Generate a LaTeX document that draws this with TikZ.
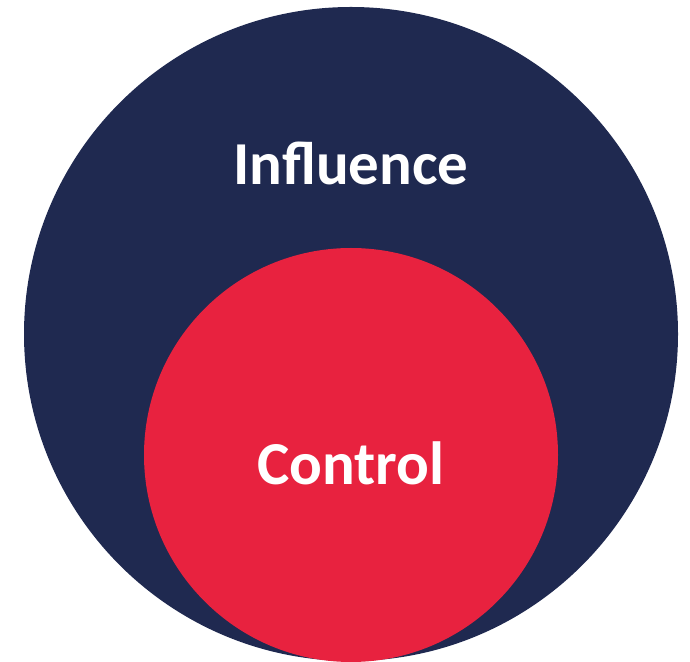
\documentclass[tikz,border=0pt]{standalone}
\usepackage{fontspec}
\setmainfont{Carlito}
\usepackage{xcolor}
\definecolor{vnavy}{HTML}{1f2950}
\definecolor{vred}{HTML}{e8223f}

\begin{document}
\begin{tikzpicture}[x=1pt, y=1pt]
		\useasboundingbox (0,0) rectangle (690,661);
		\fill[color=vnavy] (351,327) circle (327);
		\fill[color=vred] (351,206) circle (207);
		\node[text=white, font=\fontsize{61}{67}\selectfont\bfseries] (influence) at (351,498) {Influence};
		\node[text=white, font=\fontsize{61}{67}\selectfont\bfseries] (control) at (351,198) {Control};
	\end{tikzpicture}
\end{document}
